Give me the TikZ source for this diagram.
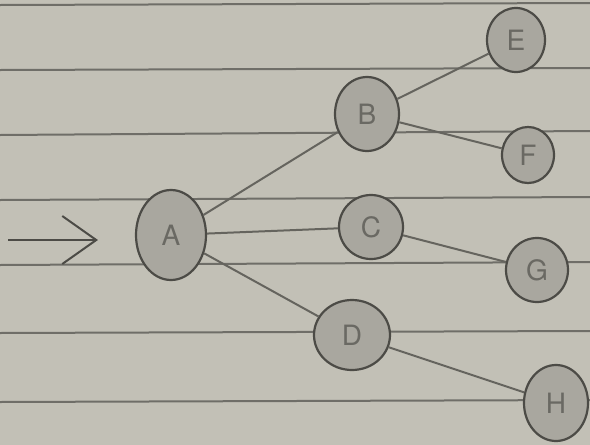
\documentclass[tikz,border=0pt]{standalone}
\usepackage{fontspec}
\setsansfont{TeX Gyre Heros}
\usetikzlibrary{shapes.geometric,arrows.meta}
\definecolor{paper}{HTML}{C2C0B6}
\definecolor{rule}{HTML}{6F6E68}
\definecolor{pencil}{HTML}{4C4B46}
\definecolor{shade}{HTML}{A9A79F}
\definecolor{edge}{HTML}{65645E}
\definecolor{letter}{HTML}{6A6963}
\tikzset{
  vtx/.style={ellipse, draw=pencil, line width=2.2pt, fill=shade, inner sep=0pt, text=letter,
    font=\fontsize{28}{30}\sffamily},
  link/.style={draw=edge, line width=2pt},
  ruleline/.style={draw=rule, line width=2pt}
}
\begin{document}
\begin{tikzpicture}[x=1pt,y=-1pt]
\fill[paper] (0,0) rectangle (590,445);
\useasboundingbox (0,0) rectangle (590,445);
\foreach \y/\z in {5/3,70/68,135/131,200/197,265/262,333/331,402/400}
  \draw[ruleline] (0,\y) -- (590,\z);
\node[vtx, minimum width=70pt, minimum height=90pt] (A) at (171,235) {A};
\node[vtx, minimum width=64pt, minimum height=74pt] (B) at (367,114) {B};
\node[vtx, minimum width=64pt, minimum height=64pt] (C) at (371,227) {C};
\node[vtx, minimum width=76pt, minimum height=70pt] (D) at (352,335) {D};
\node[vtx, minimum width=58pt, minimum height=64pt] (E) at (516,40) {E};
\node[vtx, minimum width=52pt, minimum height=56pt] (F) at (528,155) {F};
\node[vtx, minimum width=62pt, minimum height=64pt] (G) at (537,270) {G};
\node[vtx, minimum width=64pt, minimum height=76pt] (H) at (556,403) {H};
\draw[link] (A) -- (B);
\draw[link] (A) -- (C);
\draw[link] (A) -- (D);
\draw[link] (B) -- (E);
\draw[link] (B) -- (F);
\draw[link] (C) -- (G);
\draw[link] (D) -- (H);
\coordinate (s) at (8,240);
\coordinate (t) at (98,240);
\draw[draw=pencil, line width=2pt, -{Straight Barb[length=34pt,width=48pt,line width=2pt]}] (s) -- (t);
\end{tikzpicture}
\end{document}
